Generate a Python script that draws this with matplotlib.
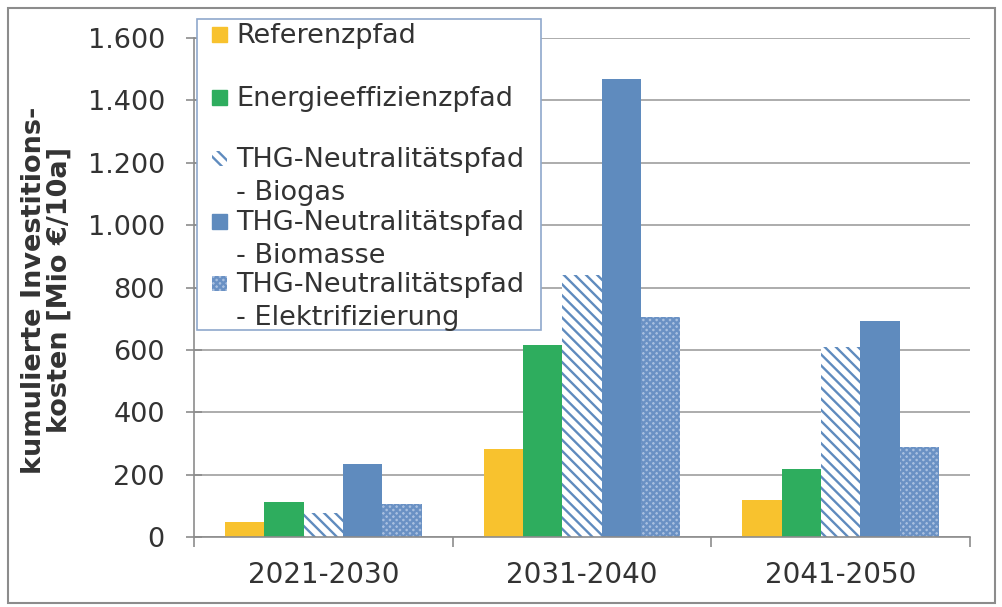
import numpy as np
import matplotlib
matplotlib.use('Agg')
import matplotlib.pyplot as plt
from matplotlib.patches import Rectangle

periods = ['2021-2030', '2031-2040', '2041-2050']
series = ['Referenzpfad', 'Energieeffizienzpfad',
          'THG-Neutralitätspfad\n- Biogas',
          'THG-Neutralitätspfad\n- Biomasse',
          'THG-Neutralitätspfad\n- Elektrifizierung']
referenz = [48, 283, 118]
effizienz = [111, 616, 219]
biogas = [78, 839, 609]
biomasse = [235, 1469, 694]
elektr = [107, 707, 287]
values = [referenz, effizienz, biogas, biomasse, elektr]

blue = '#5F8BBE'
styles = [
    dict(color='#F8C22E'),
    dict(color='#2EAD5E'),
    dict(facecolor='white', edgecolor=blue, hatch='\\\\\\', linewidth=0),
    dict(color=blue),
    dict(facecolor='#A9C0E0', edgecolor='#6A91C4', hatch='xxxxx', linewidth=0),
]

plt.rcParams['hatch.linewidth'] = 1.7
plt.rcParams['font.family'] = 'DejaVu Sans'
txt = '#333333'

fig = plt.figure(figsize=(10.03, 6.07), dpi=100)
ax = fig.add_axes([194/1003, 1-537/607, (970-194)/1003, 499/607])

x = np.arange(len(periods))
w = 0.152
for i, (vals, st) in enumerate(zip(values, styles)):
    ax.bar(x + (i-2)*w, vals, w, **st)

ax.set_xlim(-0.5, 2.5)
ax.set_ylim(0, 1600)
ax.set_yticks(np.arange(0, 1601, 200))
ax.set_yticklabels([f'{v:,}'.replace(',', '.') for v in range(0, 1601, 200)])
ax.set_xticks(x)
ax.set_xticklabels(periods)
ax.set_xticks([-0.5, 0.5, 1.5, 2.5], minor=True)
ax.tick_params(axis='x', which='major', length=0, pad=17, labelsize=20, colors=txt)
ax.tick_params(axis='x', which='minor', length=7, color='#8c8c8c', width=1.2)
ax.tick_params(axis='y', direction='inout', length=12, color='#8c8c8c', width=1.2,
               pad=15, labelsize=19.5, labelcolor=txt)
ax.grid(axis='y', color='#a6a6a6', linewidth=1.3)
ax.set_axisbelow(True)
for s in ['top', 'right']:
    ax.spines[s].set_visible(False)
for s in ['left', 'bottom']:
    ax.spines[s].set_color('#8c8c8c')
    ax.spines[s].set_linewidth(1.2)

fig.text(47/1003, 1-290/607, 'kumulierte Investitions-\nkosten [Mio €/10a]',
         rotation=90, ha='center', va='center', fontsize=19.5, fontweight='bold',
         color=txt, linespacing=1.0, multialignment='center')

# legend box drawn by hand: marker sits on the first text line
fig.patches.append(Rectangle((197/1003, 1-330/607), 344/1003, 311/607,
                             transform=fig.transFigure, facecolor='white',
                             edgecolor='#8fa8cc', linewidth=1.2, zorder=5))
baselines = [43, 106, 167, 230, 292]
for lab, st, yb in zip(series, styles, baselines):
    fig.patches.append(Rectangle((212/1003, 1-(yb-1)/607), 15/1003, 15/607,
                                 transform=fig.transFigure, zorder=6, **st))
    for k, line in enumerate(lab.split('\n')):
        fig.text(236/1003, 1-(yb+33*k)/607, line, fontsize=19.5, color=txt,
                 va='baseline', ha='left', zorder=7)

# outer frame
fig.patches.append(Rectangle((8/1003, 4/607), 987/1003, 595/607, transform=fig.transFigure,
                             facecolor='none', edgecolor='#8c8c8c', linewidth=1.5))

fig.savefig('out.png', dpi=100)
